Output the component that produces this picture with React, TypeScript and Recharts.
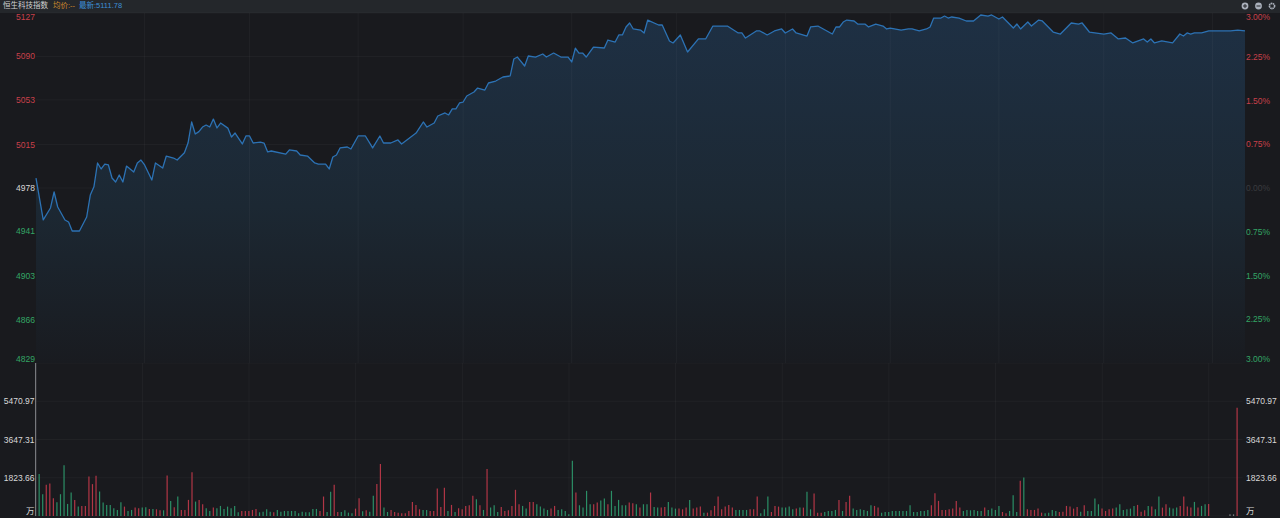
import { Area, Bar, CartesianGrid, Cell, ComposedChart, Line, ReferenceLine, XAxis, YAxis } from "recharts";

// price line
const priceSteps = [
  0, 2, 4, 5, 6, 8, 9, 10, 12, 14, 15, 16, 17, 18, 19, 20, 21, 22, 23, 24, 25, 27, 28, 29, 30, 32, 33, 35, 36, 38, 39,
  41, 42, 43, 44, 45, 46, 47, 48, 49, 50, 51, 53, 54, 55, 57, 58, 59, 60, 62, 63, 64, 65, 69, 70, 72, 73, 75, 77, 78,
  80, 81, 82, 83, 84, 86, 87, 89, 91, 93, 95, 96, 98, 100, 101, 105, 107, 108, 110, 111, 113, 114, 115, 116, 117, 118,
  119, 121, 122, 124, 125, 127, 129, 131, 132, 133, 135, 136, 138, 140, 141, 143, 145, 147, 148, 149, 150, 151, 152,
  154, 157, 158, 160, 161, 162, 163, 164, 165, 167, 168, 169, 172, 173, 175, 176, 178, 180, 183, 185, 187, 188, 191,
  194, 195, 196, 199, 200, 202, 204, 206, 207, 209, 210, 213, 214, 216, 220, 221, 222, 223, 224, 226, 227, 229, 230,
  232, 234, 235, 236, 239, 241, 242, 244, 246, 247, 248, 250, 251, 252, 253, 255, 257, 259, 261, 263, 264, 266, 267,
  270, 271, 272, 274, 275, 277, 278, 281, 283, 286, 288, 289, 291, 295, 297, 299, 301, 303, 306, 307, 308, 309, 311,
  314, 316, 317, 318, 319, 320, 322, 324, 330, 332, 334,
];
const priceValues = [
  4986.5, 4950.8, 4961, 4974.6, 4961.8, 4950.8, 4949, 4941.4, 4941.4, 4953.3, 4972, 4979, 4999.3, 4994.2, 4998.4, 4997.6, 4986.5, 4983.1, 4989.1, 4983.1, 4996.7, 4991.6, 4999.3, 5001.8, 4997.6, 4984.8, 4999.3, 4995, 5005.2, 5003.5, 5001.8,
  5008, 5016.3, 5034.2, 5024, 5026, 5029.9, 5031.6, 5029.9, 5036.7, 5029.1, 5033.3, 5029, 5021.4, 5024.8, 5015.5, 5022.3, 5022.3, 5016.3, 5017, 5016.3, 5008.7, 5009.5, 5006.9, 5010.4, 5009.5, 5006.1, 5005.2, 4999.3, 4998.4,
  4998.4, 4994.2, 5004.4, 5006.1, 5012.1, 5012.9, 5011.2, 5022.3, 5022.3, 5012.1, 5022.3, 5016.3, 5016.3, 5018.9, 5015.5, 5024.8, 5034.2, 5029.9, 5033.3, 5039.3, 5041.9, 5040.2, 5045.3, 5045.3, 5050.4, 5051.2,
  5056.3, 5059.7, 5063.1, 5061.4, 5067.4, 5069.1, 5072.5, 5073.4, 5087.8, 5089.5, 5081.9, 5090.4, 5089.5, 5092.1, 5089.5, 5092.9, 5089.5, 5089.5, 5085.3, 5097, 5092.9, 5092.9, 5089.5,
  5098, 5097.2, 5104, 5102.3, 5108.3, 5108.3, 5115.1, 5118.5, 5113.4, 5112.5, 5110, 5121, 5116.8, 5116.8, 5103.2, 5101.5, 5108.3, 5093.8, 5104.9, 5104.9, 5115.9, 5115.9, 5115.9,
  5110, 5110, 5105.7, 5111.7, 5111.7, 5108.3, 5111.7, 5113.4, 5110, 5113.4, 5110, 5107.4, 5115.1, 5115.9, 5109.1, 5115.1, 5115.1, 5119.3, 5121, 5120.2, 5117.6, 5117.6, 5115.1,
  5117.6, 5115.9, 5113.4, 5114.2, 5112.5, 5113.4, 5113.4, 5111.7, 5113.4, 5115.1, 5122.7, 5122.7, 5124.4, 5122.7, 5123.6, 5122.7, 5120.2, 5120.2, 5125.3, 5124.4, 5125.3, 5121.9, 5123.6,
  5114.2, 5117.6, 5113.4, 5119.3, 5115.9, 5121, 5120.2, 5110.8, 5109.1, 5118.5, 5117.6, 5118.5, 5110.8, 5109.1, 5110, 5104.9, 5105.7, 5101.5, 5104.9, 5102.3, 5104.9, 5101.5, 5103.2,
  5101.5, 5109.1, 5107.4, 5110, 5109.1, 5110, 5110, 5111.7, 5111.7, 5112.5, 5111.78,
];

// volume bars in 万, one per minute, R up / G down / N auction
const volumes = [
  7290,
  2000, 1040, 1488, 1552, 848, 656, 1040, 2416, 576, 1120,
  768, 448, 480, 480, 1888, 1520, 1920, 1168, 640, 528,
  528, 368, 288, 656, 448, 240, 288, 400, 368, 400,
  416, 336, 336, 320, 272, 272, 1936, 720, 416, 928,
  288, 288, 768, 2080, 688, 768, 560, 368, 240, 400,
  368, 480, 336, 448, 368, 480, 176, 240, 240, 240,
  288, 336, 176, 208, 320, 208, 176, 288, 208, 240,
  240, 240, 240, 128, 208, 176, 176, 336, 336, 240,
  928, 192, 1152, 1488, 192, 192, 272, 160, 128, 352,
  848, 224, 272, 208, 960, 1520, 2480, 400, 192, 288,
  192, 160, 128, 128, 240, 672, 528, 320, 288, 288,
  240, 240, 1312, 432, 1344, 240, 528, 192, 368, 320,
  480, 512, 960, 800, 512, 288, 2240, 400, 512, 192,
  432, 240, 272, 480, 1248, 560, 480, 352, 672, 672,
  560, 448, 352, 288, 352, 480, 288, 320, 240, 80,
  2640, 1120, 512, 400, 1200, 560, 560, 640, 736, 832,
  560, 1200, 480, 768, 512, 512, 640, 608, 560, 400,
  560, 560, 1120, 432, 400, 400, 432, 672, 400, 352,
  352, 320, 400, 768, 352, 400, 448, 160, 160, 272,
  480, 928, 320, 448, 528, 400, 288, 288, 288, 288,
  320, 320, 928, 128, 320, 928, 192, 480, 448, 400,
  400, 448, 320, 352, 400, 400, 1152, 320, 1072, 160,
  160, 192, 240, 240, 288, 768, 240, 672, 960, 352,
  288, 320, 288, 240, 512, 480, 400, 160, 192, 192,
  240, 240, 240, 240, 240, 512, 192, 192, 240, 240,
  288, 512, 1088, 720, 288, 288, 320, 352, 720, 400,
  240, 288, 272, 288, 240, 240, 400, 288, 352, 288,
  480, 192, 128, 240, 992, 192, 1680, 1840, 320, 288,
  288, 352, 160, 128, 160, 288, 240, 192, 208, 480,
  448, 352, 432, 208, 512, 240, 240, 832, 560, 352,
  240, 320, 352, 400, 560, 288, 320, 352, 480, 528,
  208, 272, 480, 448, 320, 928, 400, 560, 400, 352,
  400, 480, 928, 448, 400, 672, 400, 480, 560, 576,
  0, 0, 0, 0, 0, 80, 80, 5160, 0,
];
const volumeSides = (
  "N" +
  "GGRRRGGGGG" + "RGRRRRRGGG" + "GGGGRGGRRG" + "GRGRRGRGRG" + "RRRRGRRGGR" + "GGGGGGGRRR" + "RRGGGGRGGG" + "GGGGGGGGGR" +
  "RGGRRGGGGR" + "RGRGGRRGGR" + "RRRRRRRRGG" + "RRRRRGRGRR" + "RRRGRGRGGG" + "RRRRRRGGRR" + "GGGGRRGGGG" + "GRGGGGRRGG" + "RGGGGGRRGR" +
  "GGRGGRRGGG" + "RRRGRRRGRR" + "RRRRRRGGGG" + "RRRGGGRRRG" + "GGGRGRGGRR" + "RGGGGRGRRG" + "GGGGGRRGGG" + "GGGGGGGGGG" + "GRRRRRRRRR" +
  "GGGGGGRGGG" + "GRRGGGRGRR" + "RRRGGGGRRR" + "RRRGRGGGGR" + "RRRGGGGGGR" + "RRGRGGRRGG" + "GRRRRGRGGR" +
  "NNNNNNNRN"
).split("");

const priceTicks = [5127, 5090, 5053, 5015, 4978, 4941, 4903, 4866, 4829];
const percentTicks = [3, 2.25, 1.5, 0.75, 0, -0.75, -1.5, -2.25, -3];
const volumeTicks = [0, 1823.66, 3647.31, 5470.97];
const halfHourSteps = [30, 59, 89, 118, 148, 177, 207, 236, 266, 295, 325];
const halfHourBars = [30, 60, 90, 120, 150, 180, 210, 240, 270, 300, 330];

const BG = "#191a1e";
const GRID = "rgba(255,255,255,0.035)";
const UP = "#b23646";
const DOWN = "#2b8f66";
const FONT = '"Liberation Sans", "Noto Sans CJK SC", sans-serif';
const LABEL = "#d8d8d8";

const priceData = priceSteps.map((step, i) => ({
  step,
  price: priceValues[i],
  pct: (priceValues[i] / 4978 - 1) * 100,
}));
const volumeData = volumes.map((volume, i) => ({ i, volume, side: volumeSides[i] }));

function tone(delta: number) {
  return delta > 0 ? "#c8404a" : delta < 0 ? "#33a565" : LABEL;
}

function PriceTick({ y, payload }: any) {
  const v = payload.value;
  const dy = v === 5127 ? 4 : v === 4829 ? -4 : 0;
  return (
    <text x={35} y={y + dy + 3} textAnchor="end" fontSize={8.5} fontFamily={FONT} fill={tone(v - 4978)}>
      {v}
    </text>
  );
}

function PercentTick({ y, payload }: any) {
  const v = payload.value;
  const dy = v === 3 ? 4 : v === -3 ? -4 : 0;
  return (
    <text x={1246} y={y + dy + 3} textAnchor="start" fontSize={8.5} fontFamily={FONT} fill={v === 0 ? "#3a3b3f" : tone(v)}>
      {Math.abs(v).toFixed(2)}%
    </text>
  );
}

function VolumeTick({ textX, anchor, y, payload }: any) {
  const v = payload.value;
  return (
    <text x={textX} y={v === 0 ? y - 2 : y + 3} textAnchor={anchor} fontSize={8.5} fontFamily={FONT} fill={LABEL}>
      {v === 0 ? "万" : v.toFixed(2)}
    </text>
  );
}

function HeaderIcons() {
  return (
    <svg width={40} height={13} style={{ position: "absolute", left: 1239, top: 0 }}>
      <circle cx={6} cy={6} r={3.4} fill="#aab0bb" />
      <path d="M4 6h4M6 4v4" stroke="#24272b" strokeWidth={1} />
      <circle cx={19.5} cy={6} r={3.4} fill="#aab0bb" />
      <path d="M17.5 6h4" stroke="#24272b" strokeWidth={1} />
      <circle cx={33} cy={6} r={2.6} fill="none" stroke="#aab0bb" strokeWidth={1.6} strokeDasharray="1.6 0.5" />
    </svg>
  );
}

export default function App() {
  return (
    <div style={{ position: "absolute", left: 0, top: 0, width: 1280, height: 518, background: BG, overflow: "hidden" }}>
      <div style={{ position: "absolute", left: 0, top: 0, width: 1280, height: 13, background: "#24272b", fontFamily: FONT, fontSize: 7.5, lineHeight: "11px", whiteSpace: "nowrap" }}>
        <span style={{ position: "absolute", left: 3, color: "#d0d0d0" }}>恒生科技指数</span>
        <span style={{ position: "absolute", left: 53, color: "#d08a2c" }}>均价:--</span>
        <span style={{ position: "absolute", left: 79, color: "#3d8fd6" }}>最新:5111.78</span>
        <HeaderIcons />
      </div>

      <div style={{ position: "absolute", left: 0, top: 0 }}>
        <ComposedChart width={1280} height={363} data={priceData} margin={{ top: 13, right: 0, bottom: 0, left: 0 }}>
          <defs>
            <linearGradient id="priceFill" x1="0" y1="0" x2="0" y2="1">
              <stop offset="0%" stopColor="#1e3044" />
              <stop offset="55%" stopColor="#1c2833" />
              <stop offset="100%" stopColor="#191b20" />
            </linearGradient>
          </defs>
          <CartesianGrid stroke={GRID} vertical={false} yAxisId="price" />
          <XAxis dataKey="step" type="number" domain={[0, 334]} hide />
          <YAxis yAxisId="price" width={36} domain={[4829, 5127]} ticks={priceTicks} interval={0} axisLine={false} tickLine={false} tick={<PriceTick />} />
          <YAxis yAxisId="pct" orientation="right" width={35} domain={[-3, 3]} ticks={percentTicks} interval={0} axisLine={false} tickLine={false} tick={<PercentTick />} />
          <Area yAxisId="price" dataKey="price" type="linear" stroke="none" fill="url(#priceFill)" fillOpacity={1} isAnimationActive={false} dot={false} activeDot={false} />
          {halfHourSteps.map((s) => (
            <ReferenceLine key={s} x={s} yAxisId="price" stroke={GRID} />
          ))}
          <Line yAxisId="pct" dataKey="pct" type="linear" stroke="none" isAnimationActive={false} dot={false} activeDot={false} />
          <Line yAxisId="price" dataKey="price" type="linear" stroke="#2c72b4" strokeWidth={1.3} strokeLinejoin="round" isAnimationActive={false} dot={false} activeDot={false} />
        </ComposedChart>
      </div>

      <div style={{ position: "absolute", left: 0, top: 363 }}>
        <ComposedChart width={1280} height={153} data={volumeData} margin={{ top: 0, right: 0, bottom: 0, left: 0 }} barCategoryGap={0}>
          <CartesianGrid stroke={GRID} vertical={false} yAxisId="left" />
          <XAxis dataKey="i" type="category" hide />
          <YAxis yAxisId="left" width={34} domain={[0, 7294.64]} ticks={volumeTicks} interval={0} axisLine={false} tickLine={false} tick={<VolumeTick anchor="end" textX={34.5} />} />
          <YAxis yAxisId="right" orientation="right" width={37.4} domain={[0, 7294.64]} ticks={volumeTicks} interval={0} axisLine={false} tickLine={false} tick={<VolumeTick anchor="start" textX={1246} />} />
          {halfHourBars.map((b) => (
            <ReferenceLine key={b} x={b} yAxisId="left" stroke={GRID} />
          ))}
          <Bar yAxisId="left" dataKey="volume" barSize={1.2} isAnimationActive={false}>
            {volumeData.map((d) => (
              <Cell key={d.i} fill={d.side === "R" ? UP : d.side === "G" ? DOWN : "#77797d"} />
            ))}
          </Bar>
          <Line yAxisId="right" dataKey="volume" stroke="none" isAnimationActive={false} dot={false} activeDot={false} />
        </ComposedChart>
      </div>
    </div>
  );
}
